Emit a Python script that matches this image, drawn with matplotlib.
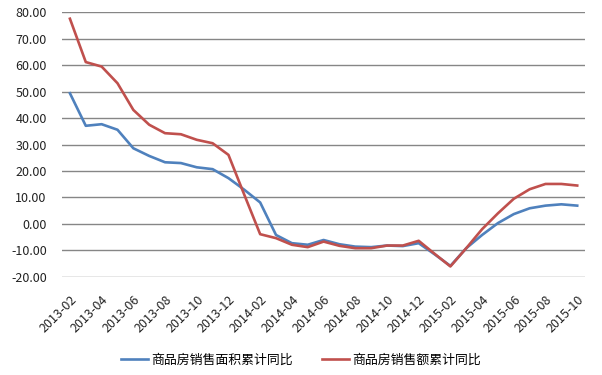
import matplotlib.pyplot as plt
import numpy as np

plt.rcParams['font.family'] = ['Noto Sans CJK SC', 'DejaVu Sans']

# monthly, 2013-02 .. 2015-10
months = [f'{y}-{m:02d}' for y in (2013, 2014, 2015) for m in range(1, 13)]
months = months[1:34]

area_yoy = [49.4, 37.1, 37.7, 35.6, 28.6, 25.7, 23.3, 23.0, 21.4, 20.7, 17.3, 12.9,
            8.1, -4.2, -7.3, -7.9, -6.1, -7.7, -8.6, -8.8, -8.2, -8.4, -7.3, -11.5,
            -15.9, -9.2, -4.2, 0.3, 3.7, 5.9, 6.9, 7.4, 6.9]
amount_yoy = [77.6, 61.2, 59.5, 53.2, 43.1, 37.5, 34.3, 33.9, 31.8, 30.5, 26.1, 11.0,
              -3.9, -5.4, -7.9, -8.8, -6.7, -8.3, -9.2, -9.2, -8.2, -8.2, -6.4, -11.3,
              -16.1, -9.2, -2.0, 4.0, 9.5, 13.1, 15.1, 15.1, 14.5]

labels = ['商品房销售面积累计同比', '商品房销售额累计同比']

fig = plt.figure(figsize=(6.02, 3.75), dpi=100)
ax = fig.add_axes([0.103, 0.262, 0.869, 0.705])

x = np.arange(len(months))
ax.plot(x, area_yoy, color='#4F81BD', linewidth=1.9, label=labels[0])
ax.plot(x, amount_yoy, color='#C0504D', linewidth=1.9, label=labels[1])

ax.set_xlim(-0.5, len(months) - 0.5)
ax.set_ylim(-20, 80)
yt = np.arange(-20, 81, 10)
ax.set_yticks(yt)
ax.set_yticklabels([f'{v:.2f}' for v in yt], fontsize=9, color='#222222')
ax.set_xticks(x[::2])
ax.set_xticklabels(months[::2], rotation=45, ha='right', va='top',
                   rotation_mode='anchor', fontsize=9, color='#222222')
ax.tick_params(axis='both', length=0)
ax.tick_params(axis='x', pad=11.5)
ax.tick_params(axis='y', pad=11)

ax.grid(axis='y', color='#868686', linewidth=1)
ax.set_axisbelow(True)
for s in ax.spines.values():
    s.set_visible(False)

fig.legend(loc='center', bbox_to_anchor=(0.5, 0.04), ncol=2, frameon=False,
           fontsize=9.3, handlelength=2.07, handletextpad=0.26, columnspacing=2.3)

fig.savefig('out.png', dpi=100)
